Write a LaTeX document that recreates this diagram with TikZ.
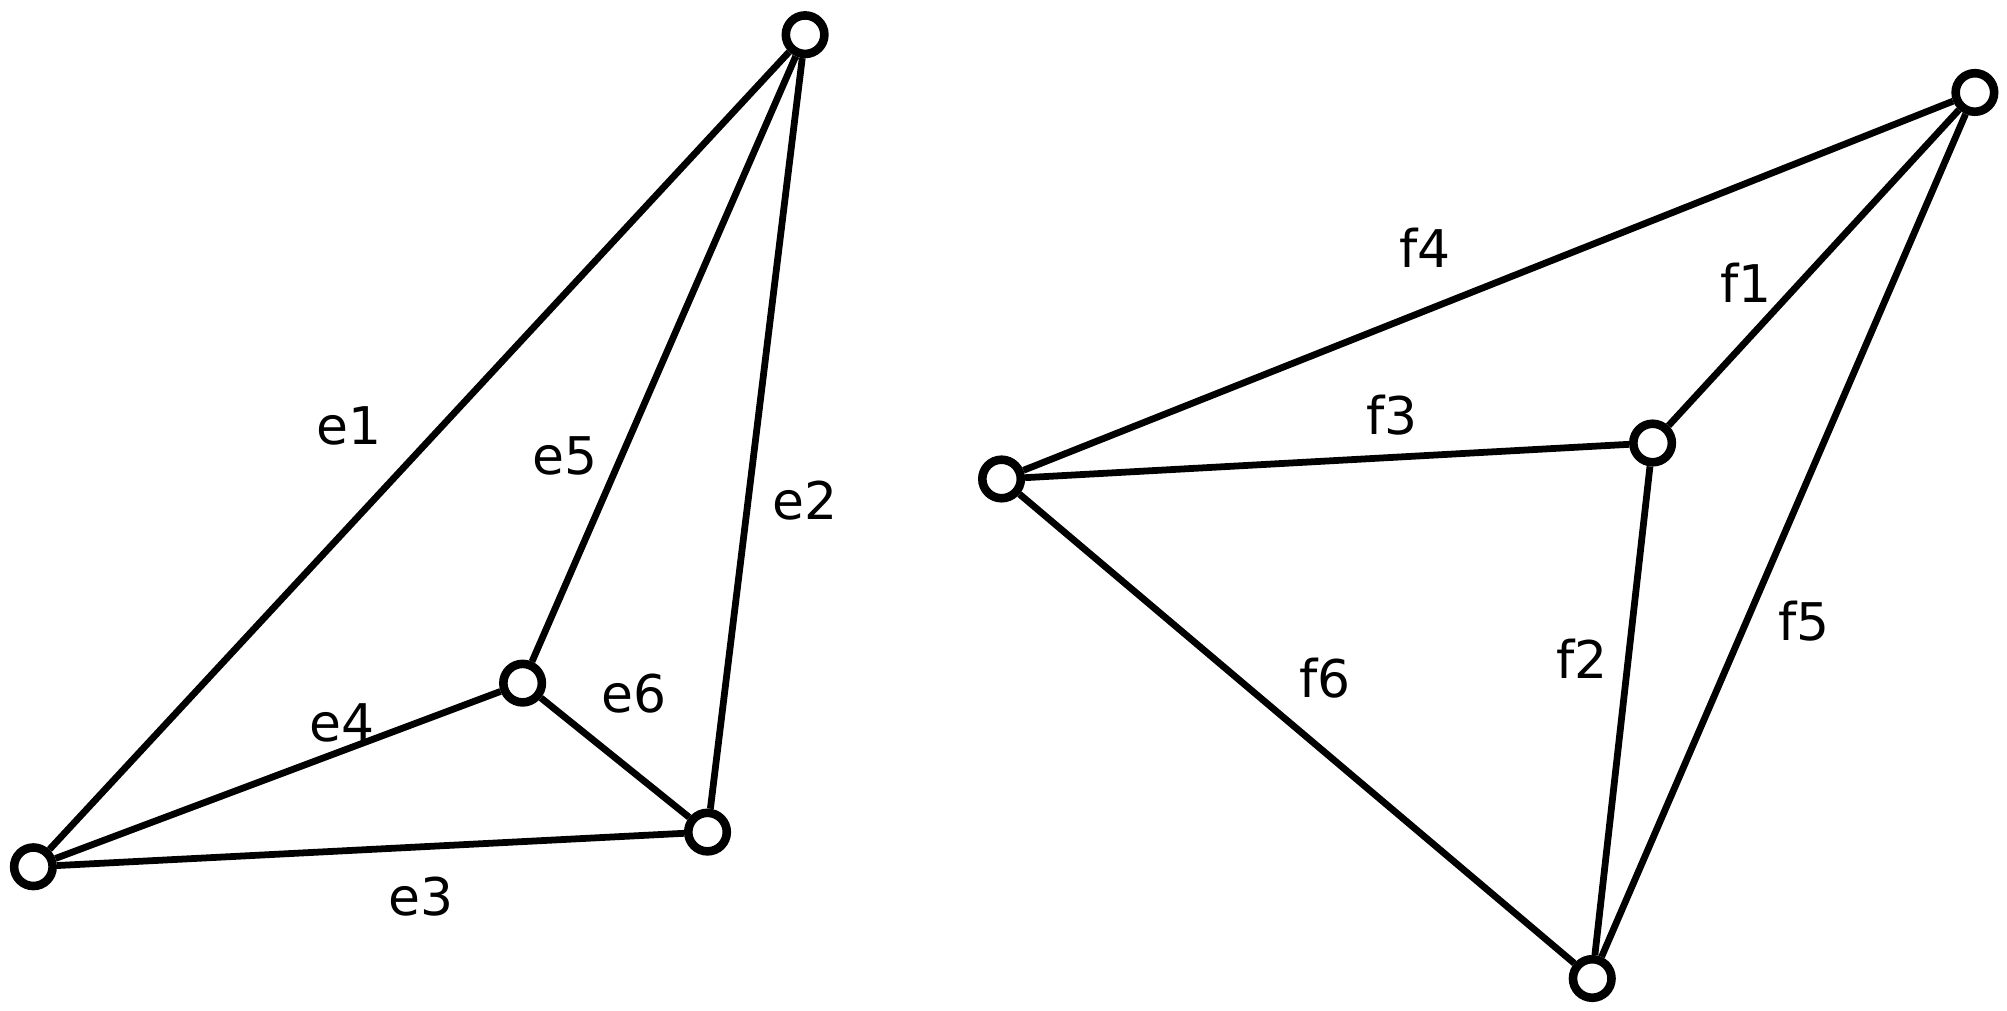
\documentclass[tikz,border=0pt]{standalone}
\usepackage{fontspec}
\setmainfont{DejaVu Sans}
\begin{document}
\begin{tikzpicture}[x=0.01cm,y=-0.01cm,
  vert/.style={circle,draw,fill=white,line width=1.9pt,minimum size=0.3cm,inner sep=0pt},
  edge/.style={line width=1.5pt},
  lab/.style={font=\fontsize{11.5}{12}\selectfont}]
\useasboundingbox (0,0) rectangle (1563,787);
\coordinate (a) at (627,27);
\node[vert] (A) at (627,27) {};
\node[vert] (B) at (26,675) {};
\node[vert] (C) at (407,532) {};
\node[vert] (D) at (551,648) {};
\node[vert] (P) at (1538,72) {};
\node[vert] (Q) at (780,373) {};
\node[vert] (R) at (1287,345) {};
\node[vert] (S) at (1240,762) {};
\begin{scope}[on background layer/.style={}]
\end{scope}
\draw[edge] (B) -- (A) (D) -- (A) (B) -- (D) (B) -- (C) (C) -- (A) (C) -- (D);
\draw[edge] (Q) -- (P) (R) -- (P) (S) -- (P) (Q) -- (R) (R) -- (S) (Q) -- (S);
\node[lab] (l1) at (272,332) {e1};
\node[lab] (l5) at (440,355) {e5};
\node[lab] (l2) at (627,390) {e2};
\node[lab] (l4) at (266,563) {e4};
\node[lab] (l6) at (494,540) {e6};
\node[lab] (l3) at (328,698) {e3};
\node[lab] (m4) at (1110,193) {f4};
\node[lab] (m1) at (1360,220) {f1};
\node[lab] (m3) at (1084,323) {f3};
\node[lab] (m2) at (1232,513) {f2};
\node[lab] (m5) at (1405,484) {f5};
\node[lab] (m6) at (1032,528) {f6};
\end{tikzpicture}
\end{document}
